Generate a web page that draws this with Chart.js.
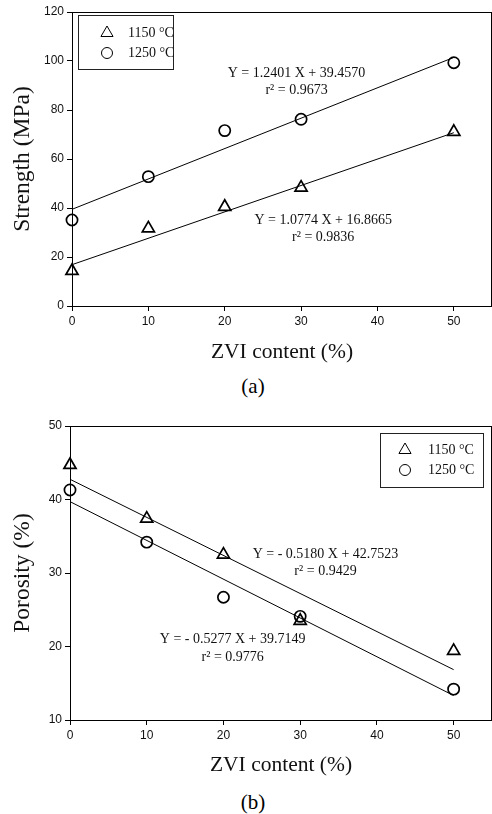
<!DOCTYPE html>
<html lang="en">
<head>
    <meta charset="UTF-8">
    <title>Strength and porosity vs ZVI content</title>
    <script src="https://cdn.jsdelivr.net/npm/chart.js"></script>
    <style>
        body { margin: 0; background: #fff; width: 492px; height: 814px; position: relative; overflow: hidden; }
        .box { position: absolute; left: 0; width: 492px; height: 372px; }
        .cap { position: absolute; left: 0; width: 506px; text-align: center; font: 21px "Liberation Serif", serif; color: #000; }
    </style>
</head>
<body>
    <div class="box" style="top:0"><canvas id="graficoA"></canvas></div>
    <div class="cap" style="top:374px">(a)</div>
    <div class="box" style="top:412px"><canvas id="graficoB"></canvas></div>
    <div class="cap" style="top:790px">(b)</div>

    <script>
        const zviContent = [0, 10, 20, 30, 50];
        const strength1150 = [14.3, 31.7, 40.5, 48.3, 71.1];
        const strength1250 = [35.1, 52.8, 71.6, 76.2, 99.3];
        const porosity1150 = [44.7, 37.4, 32.5, 23.5, 19.4];
        const porosity1250 = [41.3, 34.2, 26.7, 24.1, 14.2];

        // fitted lines, end points at 0 and 50 %
        const fitEnds = [0, 50];
        const strengthFit1150 = [16.87, 70.74];
        const strengthFit1250 = [39.46, 101.46];
        const porosityFit1150 = [42.75, 16.85];
        const porosityFit1250 = [39.71, 13.33];

        const xTicks = [0, 10, 20, 30, 40, 50];
        const strengthTicks = [0, 20, 40, 60, 80, 100, 120];
        const porosityTicks = [10, 20, 30, 40, 50];

        const seriesNames = ['1150 °C', '1250 °C'];
        const strengthNotes = [
            { x: 29.4, y: 95.1, text: 'Y = 1.2401 X + 39.4570' },
            { x: 29.4, y: 88.2, text: 'r² = 0.9673' },
            { x: 32.9, y: 35.1, text: 'Y = 1.0774 X + 16.8665' },
            { x: 32.9, y: 28.0, text: 'r² = 0.9836' }
        ];
        const porosityNotes = [
            { x: 33.3, y: 32.6, text: 'Y = - 0.5180 X + 42.7523' },
            { x: 33.3, y: 30.2, text: 'r² = 0.9429' },
            { x: 21.2, y: 21.0, text: 'Y = - 0.5277 X + 39.7149' },
            { x: 21.2, y: 18.5, text: 'r² = 0.9776' }
        ];

        const serif = '"Liberation Serif", "Times New Roman", serif';
        const sans = '"Liberation Sans", Arial, sans-serif';

        function toPoints(xs, ys) {
            return xs.map((x, i) => ({ x: x, y: ys[i] }));
        }

        const framePlugin = {
            id: 'marco',
            afterDraw(chart, args, opts) {
                const { ctx, chartArea: a, scales } = chart;
                ctx.save();
                ctx.strokeStyle = '#000';
                ctx.lineWidth = 1;
                ctx.beginPath();
                ctx.moveTo(a.left, a.top + 0.5);
                ctx.lineTo(a.right, a.top + 0.5);
                ctx.moveTo(a.right - 0.5, a.top);
                ctx.lineTo(a.right - 0.5, a.bottom);
                ctx.stroke();

                // equations
                ctx.fillStyle = '#111';
                ctx.font = '14px ' + serif;
                ctx.textAlign = 'center';
                ctx.textBaseline = 'middle';
                opts.notes.forEach(n => {
                    ctx.fillText(n.text, scales.x.getPixelForValue(n.x), scales.y.getPixelForValue(n.y));
                });

                // legend box
                const L = opts.legend;
                ctx.strokeStyle = '#222';
                ctx.strokeRect(L.left + 0.5, L.top + 0.5, L.width, L.height);
                const styles = ['triangle', 'circle'];
                const radii = [7, 5.5];
                ctx.textAlign = 'left';
                seriesNames.forEach((name, i) => {
                    const y = L.top + L.rowY[i];
                    ctx.strokeStyle = '#000';
                    ctx.fillStyle = 'rgba(0,0,0,0)';
                    Chart.helpers.drawPoint(ctx, { pointStyle: styles[i], radius: radii[i], borderWidth: 1.8, rotation: 0 }, L.left + L.markX, y);
                    ctx.fillStyle = '#111';
                    ctx.fillText(name, L.left + L.textX, y);
                });
                ctx.restore();
            }
        };

        function crearGrafico(id, cfg) {
            const ctx = document.getElementById(id).getContext('2d');
            return new Chart(ctx, {
                type: 'scatter',
                data: {
                    datasets: [
                        { data: toPoints(zviContent, cfg.y1150), pointStyle: 'triangle', pointRadius: 7, borderWidth: 1.7,
                          borderColor: '#000', backgroundColor: 'rgba(0,0,0,0)', clip: false },
                        { data: toPoints(zviContent, cfg.y1250), pointStyle: 'circle', pointRadius: 5.6, borderWidth: 1.7,
                          borderColor: '#000', backgroundColor: 'rgba(0,0,0,0)', clip: false },
                        { type: 'line', data: toPoints(fitEnds, cfg.fit1150), borderColor: '#000', borderWidth: 1,
                          pointRadius: 0, fill: false },
                        { type: 'line', data: toPoints(fitEnds, cfg.fit1250), borderColor: '#000', borderWidth: 1,
                          pointRadius: 0, fill: false }
                    ]
                },
                options: {
                    responsive: true,
                    maintainAspectRatio: false,
                    animation: false,
                    layout: { autoPadding: false, padding: { top: cfg.top, left: 0, right: 0, bottom: 0 } },
                    plugins: {
                        legend: { display: false },
                        tooltip: { enabled: false },
                        marco: { notes: cfg.notes, legend: cfg.legend }
                    },
                    scales: {
                        x: {
                            type: 'linear',
                            min: 0,
                            max: 55,
                            afterBuildTicks: s => { s.ticks = xTicks.map(v => ({ value: v })); },
                            afterFit: s => { s.height = cfg.xHeight; },
                            border: { display: true, color: '#000', width: 1 },
                            grid: { drawOnChartArea: false, drawTicks: true, tickLength: 5, color: '#000' },
                            ticks: { color: '#111', font: { family: sans, size: 12 }, padding: 3, maxRotation: 0 },
                            title: { display: true, text: 'ZVI content (%)', color: '#111',
                                     font: { family: serif, size: 21.5, lineHeight: 1 }, padding: { top: 10, bottom: cfg.titleGap } }
                        },
                        y: {
                            type: 'linear',
                            min: cfg.yTicks[0],
                            max: cfg.yTicks[cfg.yTicks.length - 1],
                            afterBuildTicks: s => { s.ticks = cfg.yTicks.map(v => ({ value: v })); },
                            afterFit: s => { s.width = cfg.yWidth; },
                            border: { display: true, color: '#000', width: 1 },
                            grid: { drawOnChartArea: false, drawTicks: true, tickLength: 5, color: '#000' },
                            ticks: { color: '#111', font: { family: sans, size: 12 }, padding: 3 },
                            title: { display: true, text: cfg.yTitle, color: '#111',
                                     font: { family: serif, size: 23.5, lineHeight: 1 }, padding: { top: 11, bottom: 0 } }
                        }
                    }
                },
                plugins: [framePlugin]
            });
        }

        crearGrafico('graficoA', {
            y1150: strength1150, y1250: strength1250,
            fit1150: strengthFit1150, fit1250: strengthFit1250,
            yTicks: strengthTicks, yTitle: 'Strength (MPa)',
            top: 12, xHeight: 66, yWidth: 72, titleGap: 9,
            notes: strengthNotes,
            legend: { left: 78, top: 15, width: 95, height: 54, markX: 29, textX: 50, rowY: [18, 38] }
        });

        crearGrafico('graficoB', {
            y1150: porosity1150, y1250: porosity1250,
            fit1150: porosityFit1150, fit1250: porosityFit1250,
            yTicks: porosityTicks, yTitle: 'Porosity (%)',
            top: 14, xHeight: 64, yWidth: 70, titleGap: 8,
            notes: porosityNotes,
            legend: { left: 380, top: 21, width: 103, height: 54, markX: 25, textX: 48, rowY: [17, 37] }
        });
    </script>
</body>
</html>
